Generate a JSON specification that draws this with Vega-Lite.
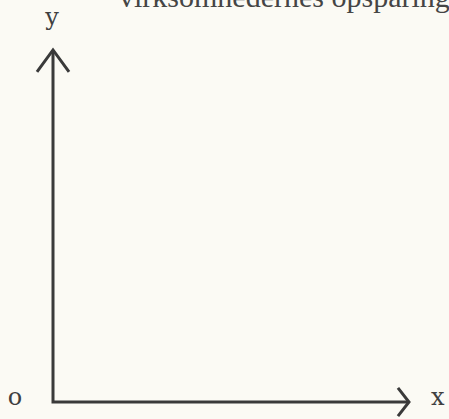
{
  "$schema": "https://vega.github.io/schema/vega-lite/v6.json",
  "width": 449,
  "height": 419,
  "autosize": {"type": "none"},
  "padding": 0,
  "background": "#fbfaf4",
  "config": {"view": {"stroke": null}},
  "datasets": {
    "lines": [
      {"part": "axes", "ord": 1, "x": 0, "y": 10},
      {"part": "axes", "ord": 2, "x": 0, "y": 0},
      {"part": "axes", "ord": 3, "x": 10, "y": 0},
      {"part": "yarrow", "ord": 1, "x": -0.45, "y": 9.38},
      {"part": "yarrow", "ord": 2, "x": 0, "y": 10},
      {"part": "yarrow", "ord": 3, "x": 0.45, "y": 9.38},
      {"part": "xarrow", "ord": 1, "x": 9.69, "y": 0.4},
      {"part": "xarrow", "ord": 2, "x": 10, "y": 0},
      {"part": "xarrow", "ord": 3, "x": 9.69, "y": -0.4}
    ],
    "labels": [
      {"kind": "axis", "label": "y", "x": -0.03, "y": 10.71},
      {"kind": "axis", "label": "x", "x": 10.81, "y": -0.085},
      {"kind": "axis", "label": "o", "x": -1.067, "y": -0.085},
      {"kind": "caption", "label": "virksomhedernes opsparing", "x": 1.854, "y": 11.22}
    ]
  },
  "encoding": {
    "x": {"field": "x", "type": "quantitative", "scale": {"domain": [-1.489, 11.124], "nice": false, "zero": false}, "axis": null},
    "y": {"field": "y", "type": "quantitative", "scale": {"domain": [-0.483, 11.42], "nice": false, "zero": false}, "axis": null}
  },
  "layer": [
    {
      "data": {"name": "lines"},
      "mark": {"type": "line", "color": "#3a3a3a", "strokeWidth": 3, "strokeJoin": "miter", "strokeCap": "butt", "clip": false},
      "encoding": {
        "detail": {"field": "part"},
        "order": {"field": "ord"}
      }
    },
    {
      "data": {"name": "labels"},
      "transform": [{"filter": "datum.kind === 'axis'"}],
      "mark": {"type": "text", "font": "DejaVu Serif", "fontSize": 24, "color": "#3f3f3f", "align": "center", "baseline": "alphabetic"},
      "encoding": {
        "text": {"field": "label"}
      }
    },
    {
      "data": {"name": "labels"},
      "transform": [{"filter": "datum.kind === 'caption'"}],
      "mark": {"type": "text", "font": "Liberation Serif", "fontSize": 30, "color": "#454545", "align": "left", "baseline": "alphabetic"},
      "encoding": {
        "text": {"field": "label"}
      }
    }
  ]
}
